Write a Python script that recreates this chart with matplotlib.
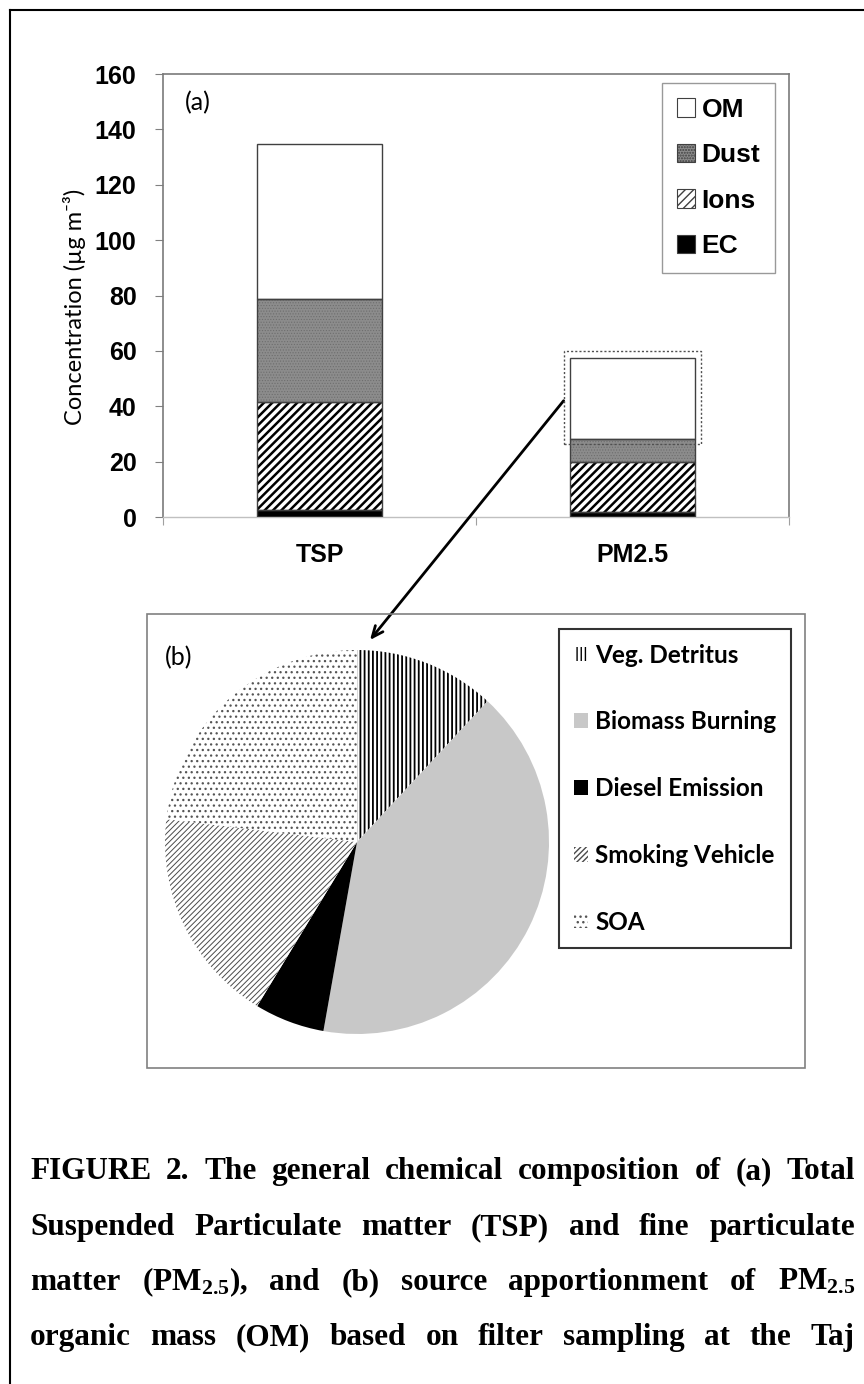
import matplotlib
matplotlib.use('Agg')
import matplotlib.pyplot as plt
from matplotlib.patches import Patch, Rectangle
from matplotlib.lines import Line2D

# --- data ---
categories = ['TSP', 'PM2.5']
ec = [2.5, 1.7]
ions = [39.1, 18.0]
dust = [37.0, 8.3]
om = [56.2, 29.3]
components = ['EC', 'Ions', 'Dust', 'OM']

sources = ['Veg. Detritus', 'Biomass Burning', 'Diesel Emission', 'Smoking Vehicle', 'SOA']
shares = [11.9, 40.9, 5.9, 18.2, 23.1]

caption_lines = [
    ['FIGURE', '2.', 'The', 'general', 'chemical', 'composition', 'of', '(a)', 'Total'],
    ['Suspended', 'Particulate', 'matter', '(TSP)', 'and', 'fine', 'particulate'],
    ['matter', r'(PM$_{2.5}$),', 'and', '(b)', 'source', 'apportionment', 'of', r'PM$_{2.5}$'],
    ['organic', 'mass', '(OM)', 'based', 'on', 'filter', 'sampling', 'at', 'the', 'Taj'],
]

plt.rcParams['mathtext.fontset'] = 'custom'
plt.rcParams['mathtext.rm'] = 'Liberation Serif:bold'
plt.rcParams['mathtext.default'] = 'rm'

W, H = 864, 1384
fig = plt.figure(figsize=(W / 100, H / 100), dpi=100)


def fx(px):
    return px / W


def fy(py):
    return 1 - py / H


# page frame (left and top rule)
fig.add_artist(Line2D([fx(10), fx(10)], [0, fy(10)], color='black', lw=1.5))
fig.add_artist(Line2D([fx(10), 1], [fy(10), fy(10)], color='black', lw=1.5))

# --- (a) stacked bars ---
ax = fig.add_axes([fx(163), fy(517), (789 - 163) / W, (517 - 74) / H])
x = range(len(categories))
styles = {
    'EC': dict(face='black', hatch=None, hc='black', hlw=1.0),
    'Ions': dict(face='white', hatch='////', hc='black', hlw=1.8),
    'Dust': dict(face='#8c8c8c', hatch='......', hc='#6e6e6e', hlw=0.5),
    'OM': dict(face='white', hatch=None, hc='white', hlw=1.0),
}
layers = {'EC': ec, 'Ions': ions, 'Dust': dust, 'OM': om}
bottom = [0.0] * len(categories)
for name in components:
    st = styles[name]
    vals = layers[name]
    with plt.rc_context({'hatch.linewidth': st['hlw']}):
        ax.bar(x, vals, 0.4, bottom=bottom, color=st['face'], edgecolor=st['hc'],
               hatch=st['hatch'], linewidth=0, zorder=2)
    ax.bar(x, vals, 0.4, bottom=bottom, fill=False, edgecolor='#404040',
           linewidth=1, zorder=3)
    bottom = [b + v for b, v in zip(bottom, vals)]

ax.set_xlim(-0.5, 1.5)
ax.set_ylim(0, 160)
ax.set_yticks(range(0, 161, 20))
ax.set_xticks([-0.5, 0.5, 1.5])
ax.set_xticklabels([])
ax.set_xticks(list(x), minor=True)
ax.set_xticklabels(categories, minor=True)
ax.tick_params(axis='x', which='minor', length=0, pad=19)
ax.tick_params(axis='x', which='major', length=6, color='#a0a0a0', direction='out')
ax.tick_params(axis='y', length=6, color='#808080', direction='out', pad=13)
for lab in ax.get_yticklabels() + ax.get_xticklabels(minor=True):
    lab.set_fontfamily('Liberation Sans')
    lab.set_fontweight('bold')
    lab.set_fontsize(18)
for side in ['top', 'right', 'left']:
    ax.spines[side].set_color('#7a7a7a')
    ax.spines[side].set_linewidth(1.2)
ax.spines['bottom'].set_color('#c0c0c0')
ax.spines['bottom'].set_linewidth(1.0)

fig.text(fx(75), fy(307), 'Concentration (\u00b5g m\u207b\u00b3)', rotation=90,
         ha='center', va='center', fontsize=17, family=['Lato', 'DejaVu Sans'])
ax.text(0.035, 0.935, '(a)', transform=ax.transAxes, fontsize=18,
        family='Lato', ha='left', va='center')

handles = []
for name in components[::-1]:
    st = styles[name]
    h = '////' if name == 'Ions' else st['hatch']
    handles.append(Patch(facecolor=st['face'], edgecolor='#404040', hatch=h,
                         linewidth=0.8, label=name))
leg = ax.legend(handles=handles, loc='upper right',
                bbox_to_anchor=((775 - 163) / 626, (517 - 83) / 443),
                borderaxespad=0, frameon=True, fancybox=False,
                edgecolor='#808080', handlelength=0.7, handleheight=0.7,
                handletextpad=0.25, labelspacing=0.82, borderpad=0.55,
                prop={'family': 'Liberation Sans', 'weight': 'bold', 'size': 19})
leg.get_frame().set_linewidth(1.0)

# dotted box around PM2.5 OM and arrow to pie
base = ec[1] + ions[1] + dust[1]
ax.add_patch(Rectangle((1 - 0.22, base - 1.5), 0.44, om[1] + 4.0, fill=False,
                       linestyle=(0, (1.5, 1.5)), edgecolor='#505050', lw=1.0, zorder=4))
ax.annotate('', xy=(fx(370), fy(640)), xycoords='figure fraction',
            xytext=(0.78, 42), textcoords='data', annotation_clip=False,
            arrowprops=dict(arrowstyle='->,head_length=0.8,head_width=0.35',
                            color='black', lw=2, shrinkA=0, shrinkB=0))

# --- (b) pie ---
fig.add_artist(Rectangle((fx(147), fy(1068)), (805 - 147) / W, (1068 - 614) / H,
                         transform=fig.transFigure, fill=False,
                         edgecolor='#808080', lw=1.2))
pax = fig.add_axes([fx(357 - 192), fy(842 + 192), 384 / W, 384 / H])
pie_faces = ['white', '#c8c8c8', 'black', 'white', 'white']
pie_hatches = ['||||', None, None, '//////', '...']
pie_hcolors = ['black', '#c8c8c8', 'black', '#4a4a4a', '#555555']
pie_hlw = [1.3, 1.0, 1.0, 0.7, 0.9]
wedges, _ = pax.pie(shares, startangle=90, counterclock=False, colors=pie_faces,
                    wedgeprops=dict(linewidth=0))
for w, h, hc, lw in zip(wedges, pie_hatches, pie_hcolors, pie_hlw):
    w.set_edgecolor(hc)
    w.set_hatch(h)
    if hasattr(w, 'set_hatch_linewidth'):
        w.set_hatch_linewidth(lw)
pax.set_xlim(-1, 1)
pax.set_ylim(-1, 1)
fig.text(fx(165), fy(658), '(b)', fontsize=18, family='Lato', ha='left', va='center')

pie_handles = []
for name, fc, h, hc in zip(sources, pie_faces, pie_hatches, pie_hcolors):
    pie_handles.append(Patch(facecolor=fc, edgecolor=hc, hatch=h, linewidth=0, label=name))
pleg = fig.legend(handles=pie_handles, loc='upper left',
                  bbox_to_anchor=(fx(559), fy(629)), borderaxespad=0,
                  frameon=True, fancybox=False, edgecolor='black',
                  handlelength=0.6, handleheight=0.55, handletextpad=0.3,
                  labelspacing=1.8, borderpad=0.6,
                  prop={'family': 'Lato', 'weight': 'bold', 'size': 17.5})
pleg.get_frame().set_linewidth(1.5)

# --- caption, justified ---
renderer = fig.canvas.get_renderer()
left, right = 30, 855
baselines = [1179, 1235, 1290, 1345]
for words, yb in zip(caption_lines, baselines):
    texts = [fig.text(0, fy(yb), w_, fontsize=22.5, family='Liberation Serif',
                      weight='bold', ha='left', va='baseline') for w_ in words]
    widths = [t.get_window_extent(renderer).width for t in texts]
    gap = (right - left - sum(widths)) / (len(words) - 1)
    pos = left
    for t, wd in zip(texts, widths):
        t.set_x(fx(pos))
        pos += wd + gap

fig.savefig('out.png', dpi=100)
